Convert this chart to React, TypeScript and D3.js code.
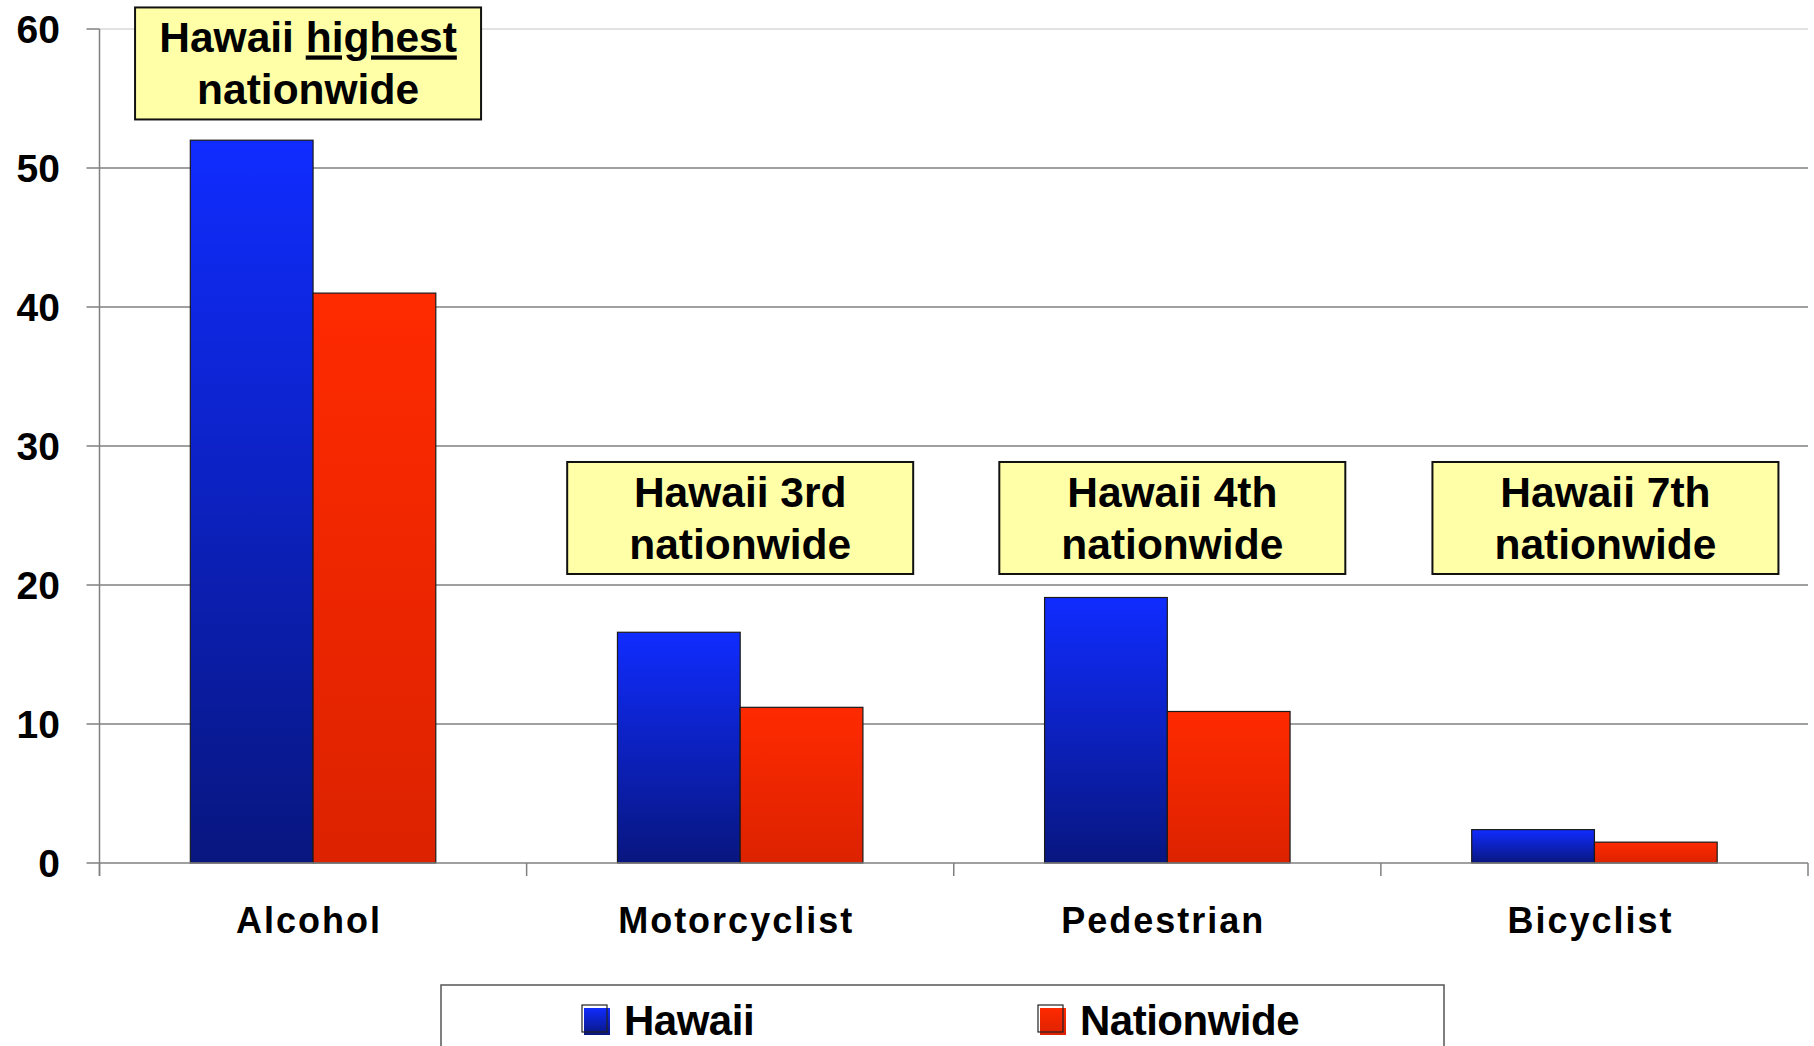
import React, { useEffect } from 'react';
import * as d3 from 'd3';

const width = 1814;
const height = 1046;
const margin = { top: 29, right: 6, bottom: 183, left: 99.5 };

// values
const categories = ['Alcohol', 'Motorcyclist', 'Pedestrian', 'Bicyclist'];
const seriesNames = ['Hawaii', 'Nationwide'];
const hawaiiValues = [52, 16.6, 19.1, 2.4];
const nationwideValues = [41, 11.2, 10.9, 1.5];
const yTicks = [0, 10, 20, 30, 40, 50, 60];
const noteFirstLines = ['Hawaii ', 'Hawaii 3rd', 'Hawaii 4th', 'Hawaii 7th'];
const noteUnderlined = ['highest', '', '', ''];
const noteSecondLine = 'nationwide';

const font = '"Liberation Sans", Arial, sans-serif';

const App = () => {
    useEffect(() => {
        document.body.style.margin = '0';
    }, []);

    const x = d3.scaleBand<string>()
        .domain(categories)
        .range([margin.left, width - margin.right])
        .paddingInner(0)
        .paddingOuter(0);

    const xSub = d3.scaleBand<string>()
        .domain(seriesNames)
        .range([0, x.bandwidth()])
        .paddingInner(0)
        .paddingOuter(0.74);

    const y = d3.scaleLinear().domain([0, 60]).range([height - margin.bottom, margin.top]);

    const series = [
        { name: 'Hawaii', values: hawaiiValues, grad: 'gradBlue' },
        { name: 'Nationwide', values: nationwideValues, grad: 'gradRed' },
    ];

    const x0 = margin.left;
    const x1 = width - margin.right;
    const boxW = 346;
    const boxH = 112;

    return (
        <svg width={width} height={height} style={{ display: 'block', background: '#fff' }}>
            <defs>
                <linearGradient id="gradBlue" x1="0" y1="0" x2="0" y2="1">
                    <stop offset="0%" stopColor="#102cff" />
                    <stop offset="100%" stopColor="#08167f" />
                </linearGradient>
                <linearGradient id="gradRed" x1="0" y1="0" x2="0" y2="1">
                    <stop offset="0%" stopColor="#ff2a00" />
                    <stop offset="100%" stopColor="#dc2200" />
                </linearGradient>
            </defs>

            {/* gridlines */}
            {yTicks.filter(t => t > 0).map(t => (
                <line key={t} x1={x0} x2={x1} y1={y(t)} y2={y(t)}
                    stroke={t === 60 ? '#d8d8d8' : '#808080'} strokeWidth={1.5} />
            ))}

            {/* y axis */}
            <line x1={x0} x2={x0} y1={y(60)} y2={y(0) + 13} stroke="#808080" strokeWidth={1.5} />
            {yTicks.map(t => (
                <g key={t}>
                    <line x1={x0 - 13} x2={x0} y1={y(t)} y2={y(t)} stroke="#808080" strokeWidth={1.5} />
                    <text x={60} y={y(t)} dy="0.36em" textAnchor="end"
                        fontFamily={font} fontWeight="bold" fontSize={39}>{t}</text>
                </g>
            ))}

            {/* bars */}
            {series.map(s => (
                <g key={s.name}>
                    {categories.map((c, i) => (
                        <rect key={c}
                            x={(x(c) as number) + (xSub(s.name) as number)}
                            y={y(s.values[i])}
                            width={xSub.bandwidth()}
                            height={y(0) - y(s.values[i])}
                            fill={`url(#${s.grad})`}
                            stroke="#1a1a1a" strokeWidth={1.2} />
                    ))}
                </g>
            ))}

            {/* x axis */}
            <line x1={x0} x2={x1} y1={y(0)} y2={y(0)} stroke="#808080" strokeWidth={1.5} />
            {categories.map(c => (
                <line key={c} x1={x(c)} x2={x(c)} y1={y(0)} y2={y(0) + 13} stroke="#808080" strokeWidth={1.5} />
            ))}
            <line x1={x1} x2={x1} y1={y(0)} y2={y(0) + 13} stroke="#808080" strokeWidth={1.5} />
            {categories.map(c => (
                <text key={c} x={(x(c) as number) + x.bandwidth() / 2 - 4} y={933}
                    textAnchor="middle" fontFamily={font} fontWeight="bold" fontSize={36}
                    letterSpacing={2}>{c}</text>
            ))}

            {/* annotation boxes */}
            {categories.map((c, i) => {
                const cx = (x(c) as number) + x.bandwidth() / 2 + (i === 0 ? -5 : i === 1 ? 0 : 5 + (i - 2) * 6);
                const top = i === 0 ? y(61.55) : y(28.85);
                return (
                    <g key={c}>
                        <rect x={cx - boxW / 2} y={top} width={boxW} height={boxH}
                            fill="#ffffa8" stroke="#111" strokeWidth={2} />
                        <text x={cx} y={top + 45} textAnchor="middle" fontFamily={font}
                            fontWeight="bold" fontSize={42.5}>
                            {noteFirstLines[i]}
                            {noteUnderlined[i] && <tspan textDecoration="underline">{noteUnderlined[i]}</tspan>}
                        </text>
                        <text x={cx} y={top + 97} textAnchor="middle" fontFamily={font}
                            fontWeight="bold" fontSize={42.5}>{noteSecondLine}</text>
                    </g>
                );
            })}

            {/* legend */}
            <rect x={441} y={985} width={1003} height={80} fill="#fff" stroke="#555" strokeWidth={1.5} />
            {series.map((s, i) => {
                const lx = i === 0 ? 582 : 1038;
                return (
                    <g key={s.name}>
                        <rect x={lx + 2} y={1008} width={26} height={27} fill={`url(#${s.grad})`} />
                        <rect x={lx} y={1005} width={25} height={27} fill="none" stroke="#222" strokeWidth={1.2} />
                        <text x={lx + 42} y={1035} fontFamily={font} fontWeight="bold" fontSize={42}
                            letterSpacing={-0.5}>{s.name}</text>
                    </g>
                );
            })}
        </svg>
    );
};

export default App;
